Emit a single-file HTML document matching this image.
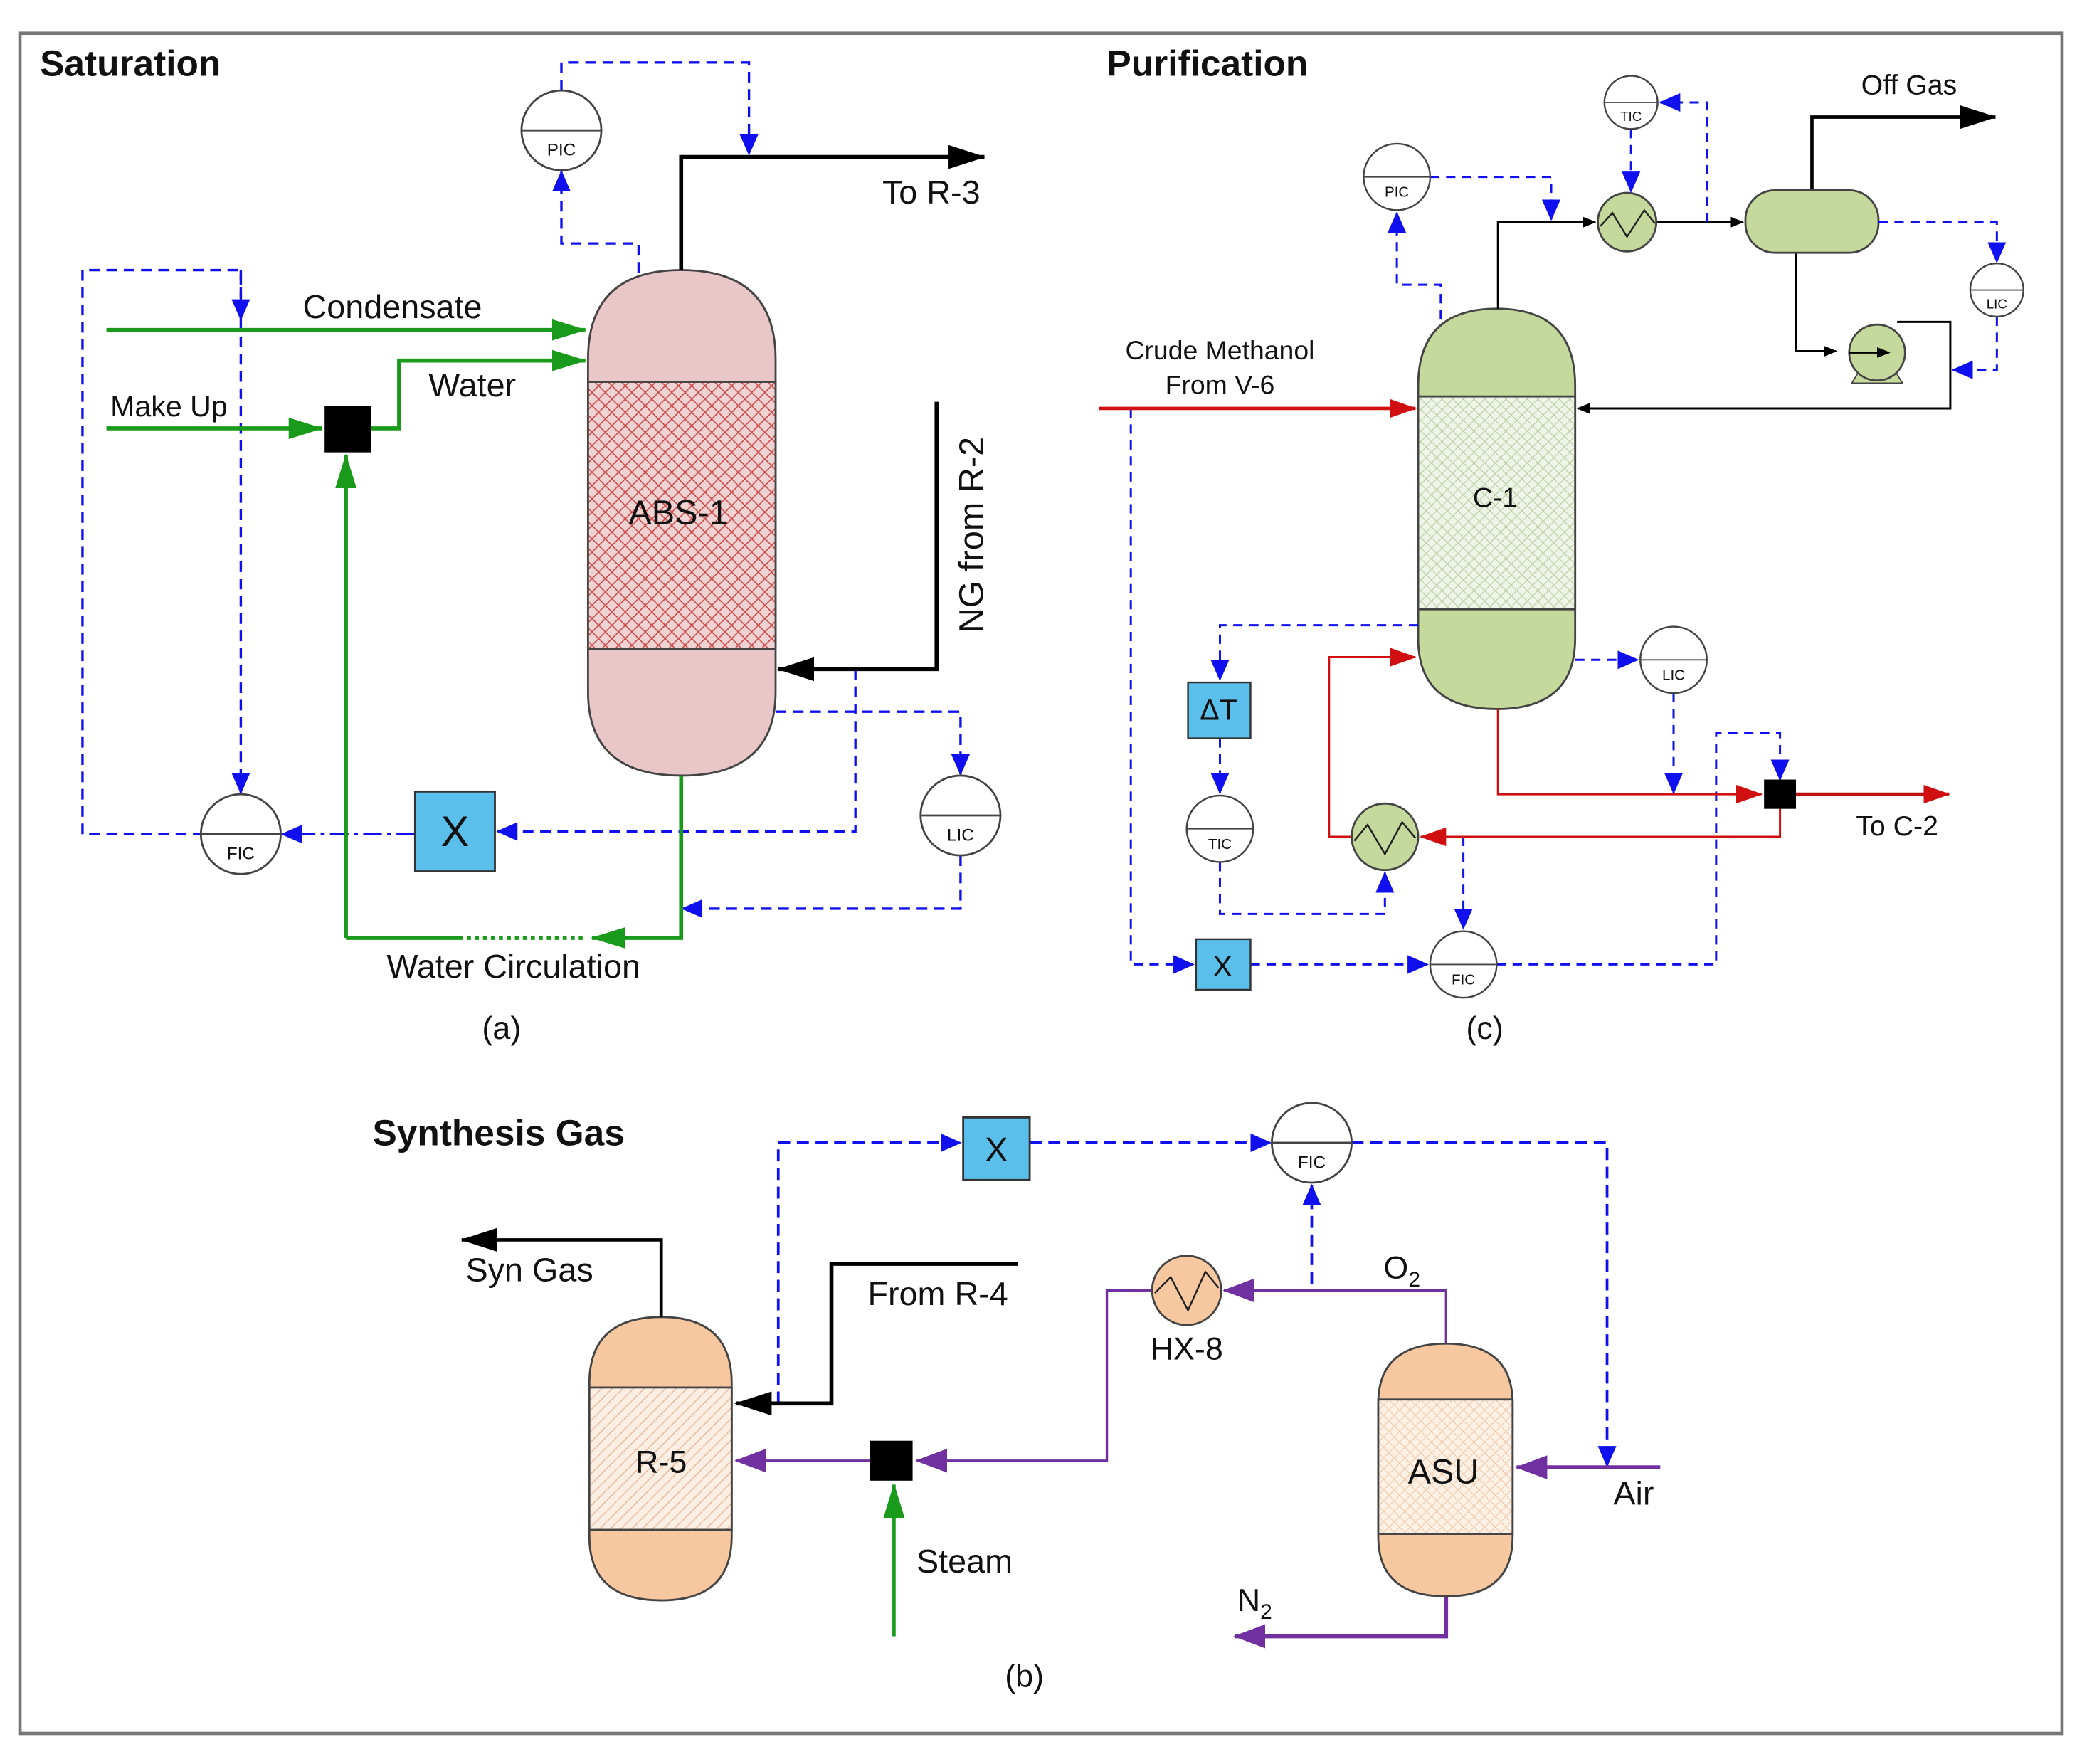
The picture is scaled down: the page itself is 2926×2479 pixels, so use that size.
<!DOCTYPE html>
<html><head><meta charset="utf-8"><style>
html,body{margin:0;padding:0;background:#fff}
svg{display:block}
text{font-family:"Liberation Sans",sans-serif;fill:#111}
</style></head><body>
<svg width="2926" height="2479" viewBox="0 0 1565 1326" preserveAspectRatio="none" xmlns="http://www.w3.org/2000/svg">
<defs>
<pattern id="hr" width="10" height="10" patternUnits="userSpaceOnUse"><rect width="10" height="10" fill="#efd3d3"/><path d="M0 0L10 10M10 0L0 10" stroke="#c44" stroke-width="0.8"/></pattern>
<pattern id="hg" width="8" height="8" patternUnits="userSpaceOnUse"><rect width="8" height="8" fill="#eef5e6"/><path d="M0 0L8 8M8 0L0 8" stroke="#b8cba0" stroke-width="0.6"/></pattern>
<pattern id="ho" width="8" height="8" patternUnits="userSpaceOnUse"><rect width="8" height="8" fill="#fbeee2"/><path d="M0 8L8 0" stroke="#e8b898" stroke-width="0.8"/></pattern>
<pattern id="ho2" width="8" height="8" patternUnits="userSpaceOnUse"><rect width="8" height="8" fill="#fdf0e4"/><path d="M0 0L8 8M8 0L0 8" stroke="#f0c8a8" stroke-width="0.6"/></pattern>
<marker id="ak" markerWidth="10" markerHeight="8" refX="9" refY="4" orient="auto" markerUnits="userSpaceOnUse"><path d="M0 0L10 4L0 8z" fill="#000"/></marker>
<marker id="akb" markerWidth="28" markerHeight="18" refX="27" refY="9" orient="auto" markerUnits="userSpaceOnUse"><path d="M0 0L28 9L0 18z" fill="#000"/></marker>
<marker id="ag" markerWidth="26" markerHeight="16" refX="25" refY="8" orient="auto" markerUnits="userSpaceOnUse"><path d="M0 0L26 8L0 16z" fill="#1a9a1a"/></marker>
<marker id="ab" markerWidth="16" markerHeight="14" refX="15" refY="7" orient="auto" markerUnits="userSpaceOnUse"><path d="M0 0L16 7L0 14z" fill="#1010ee"/></marker>
<marker id="ar" markerWidth="20" markerHeight="14" refX="19" refY="7" orient="auto" markerUnits="userSpaceOnUse"><path d="M0 0L20 7L0 14z" fill="#d01010"/></marker>
<marker id="ap" markerWidth="24" markerHeight="18" refX="23" refY="9" orient="auto" markerUnits="userSpaceOnUse"><path d="M0 0L24 9L0 18z" fill="#7030a0"/></marker>
</defs>
<rect x="15" y="25" width="1535" height="1278" fill="none" stroke="#777" stroke-width="2.5"/>

<!-- ===== Saturation ===== -->
<text x="30" y="57" font-size="27.5" font-weight="bold">Saturation</text>
<path d="M442 270 Q442 203 512 203 Q583 203 583 270 L583 520 Q583 583 512 583 Q442 583 442 520Z" fill="#e9c6c7" stroke="#444" stroke-width="1.5"/>
<rect x="442" y="287" width="141" height="201" fill="url(#hr)" stroke="#444" stroke-width="1.5"/>
<text x="510" y="394" font-size="26" text-anchor="middle">ABS-1</text>
<path d="M512 203V118H740" fill="none" stroke="#000" stroke-width="3" marker-end="url(#akb)"/>
<text x="700" y="153" font-size="25" text-anchor="middle">To R-3</text>
<g fill="none" stroke="#1010ee" stroke-width="1.8" stroke-dasharray="8 5">
<path d="M480 205V183H422V129" marker-end="url(#ab)"/>
<path d="M422 68V47H563V116" marker-end="url(#ab)"/>
<path d="M181 240V203H62V627H151"/>
<path d="M181 203V240" marker-end="url(#ab)"/>
<path d="M181 240V596" marker-end="url(#ab)"/>
<path d="M643 503V625H374" marker-end="url(#ab)"/>
<path d="M312 627H212" stroke-dasharray="14 4 3 4" marker-end="url(#ab)"/>
<path d="M583 535H722V582" marker-end="url(#ab)"/>
<path d="M722 643V683H513" marker-end="url(#ab)"/>
</g>
<circle cx="422" cy="98" r="30" fill="#fff" stroke="#444" stroke-width="1.5"/><line x1="392" y1="98" x2="452" y2="98" stroke="#444" stroke-width="1.5"/><text x="422" y="117" font-size="13" text-anchor="middle">PIC</text>
<g fill="none" stroke="#1a9a1a" stroke-width="3">
<path d="M80 248H440" marker-end="url(#ag)"/>
<path d="M80 322H242" marker-end="url(#ag)"/>
<path d="M279 322H300V271H440" marker-end="url(#ag)"/>
<path d="M260 705V342" marker-end="url(#ag)"/>
<path d="M512 583V705H445" marker-end="url(#ag)"/>
<path d="M260 705H345"/>
</g>
<path d="M345 705H440" stroke="#1a9a1a" stroke-width="3" stroke-dasharray="3 3"/>
<text x="295" y="239" font-size="25" text-anchor="middle">Condensate</text>
<text x="355" y="298" font-size="25" text-anchor="middle">Water</text>
<text x="127" y="313" font-size="22" text-anchor="middle">Make Up</text>
<rect x="244" y="305" width="35" height="35" fill="#000"/>
<path d="M704 302V503H585" fill="none" stroke="#000" stroke-width="3" marker-end="url(#akb)"/>
<text x="0" y="0" font-size="26" text-anchor="middle" transform="translate(739,402) rotate(-90)">NG from R-2</text>
<rect x="312" y="595" width="60" height="60" fill="#5bbfec" stroke="#333" stroke-width="1.5"/><text x="342" y="636" font-size="32" text-anchor="middle">X</text>
<circle cx="181" cy="627" r="30" fill="#fff" stroke="#444" stroke-width="1.5"/><line x1="151" y1="627" x2="211" y2="627" stroke="#444" stroke-width="1.5"/><text x="181" y="646" font-size="13" text-anchor="middle">FIC</text>
<circle cx="722" cy="613" r="30" fill="#fff" stroke="#444" stroke-width="1.5"/><line x1="692" y1="613" x2="752" y2="613" stroke="#444" stroke-width="1.5"/><text x="722" y="632" font-size="13" text-anchor="middle">LIC</text>
<text x="386" y="735" font-size="25" text-anchor="middle">Water Circulation</text>
<text x="377" y="781" font-size="24" text-anchor="middle">(a)</text>

<!-- ===== Purification ===== -->
<text x="832" y="57" font-size="27.5" font-weight="bold">Purification</text>
<path d="M1066 290 Q1066 232 1125 232 Q1184 232 1184 290 L1184 480 Q1184 533 1125 533 Q1066 533 1066 480Z" fill="#c6d99c" stroke="#444" stroke-width="1.5"/>
<rect x="1066" y="298" width="118" height="160" fill="url(#hg)" stroke="#444" stroke-width="1.5"/>
<text x="1124" y="381" font-size="21" text-anchor="middle">C-1</text>
<g fill="none" stroke="#000" stroke-width="1.6">
<path d="M1126 232V167H1199" marker-end="url(#ak)"/>
<path d="M1245 167H1310" marker-end="url(#ak)"/>
<path d="M1350 190V264H1380" marker-end="url(#ak)"/>
<path d="M1426 242H1466V307H1186" marker-end="url(#ak)"/>
</g>
<path d="M1362 143V88H1500" fill="none" stroke="#000" stroke-width="2.5" marker-end="url(#akb)"/>
<text x="1435" y="71" font-size="21" text-anchor="middle">Off Gas</text>
<rect x="1312" y="143" width="100" height="47" rx="22" fill="#c6d99c" stroke="#444" stroke-width="1.5"/>
<circle cx="1223" cy="167" r="22" fill="#c6d99c" stroke="#444" stroke-width="1.5"/><path d="M1203 170L1212 160L1223 178L1236 158L1244 168" fill="none" stroke="#222" stroke-width="1.3"/>
<path d="M1392 288L1398 278H1424L1430 288Z" fill="#c6d99c" stroke="#444"/>
<circle cx="1411" cy="265" r="21" fill="#c6d99c" stroke="#444" stroke-width="1.5"/>
<g fill="none" stroke="#1010ee" stroke-width="1.6" stroke-dasharray="7 5">
<path d="M1283 167V77H1248" marker-end="url(#ab)"/>
<path d="M1226 97V144" marker-end="url(#ab)"/>
<path d="M1083 240V214H1050V160" marker-end="url(#ab)"/>
<path d="M1075 133H1166V165" marker-end="url(#ab)"/>
<path d="M1412 167H1501V197" marker-end="url(#ab)"/>
<path d="M1501 238V278H1468" marker-end="url(#ab)"/>
<path d="M850 307V725H897" marker-end="url(#ab)"/>
<path d="M940 725H1073" marker-end="url(#ab)"/>
<path d="M1125 725H1290V551H1338V586" marker-end="url(#ab)"/>
<path d="M1066 470H917V511" marker-end="url(#ab)"/>
<path d="M917 555V596" marker-end="url(#ab)"/>
<path d="M917 648V687H1041V656" marker-end="url(#ab)"/>
<path d="M1184 496H1231" marker-end="url(#ab)"/>
<path d="M1258 521V596" marker-end="url(#ab)"/>
<path d="M1100 629V698" marker-end="url(#ab)"/>
</g>
<circle cx="1226" cy="77" r="20" fill="#fff" stroke="#444" stroke-width="1.3"/><line x1="1206" y1="77" x2="1246" y2="77" stroke="#444"/><text x="1226" y="91" font-size="10" text-anchor="middle">TIC</text>
<circle cx="1050" cy="133" r="25" fill="#fff" stroke="#444" stroke-width="1.3"/><line x1="1025" y1="133" x2="1075" y2="133" stroke="#444"/><text x="1050" y="148" font-size="11" text-anchor="middle">PIC</text>
<circle cx="1501" cy="218" r="20" fill="#fff" stroke="#444" stroke-width="1.3"/><line x1="1481" y1="218" x2="1521" y2="218" stroke="#444"/><text x="1501" y="232" font-size="10" text-anchor="middle">LIC</text>
<path d="M1390 265H1420" stroke="#000" stroke-width="1.5" marker-end="url(#ak)"/>
<path d="M826 307H1064" stroke="#d01010" stroke-width="2.5" marker-end="url(#ar)"/>
<text x="917" y="270" font-size="20" text-anchor="middle">Crude Methanol</text>
<text x="917" y="296" font-size="20" text-anchor="middle">From V-6</text>
<rect x="899" y="706" width="41" height="38" fill="#5bbfec" stroke="#333" stroke-width="1.3"/><text x="919" y="734" font-size="22" text-anchor="middle">X</text>
<circle cx="1100" cy="725" r="25" fill="#fff" stroke="#444" stroke-width="1.3"/><line x1="1075" y1="725" x2="1125" y2="725" stroke="#444"/><text x="1100" y="740" font-size="11" text-anchor="middle">FIC</text>
<rect x="893" y="513" width="47" height="42" fill="#5bbfec" stroke="#333" stroke-width="1.3"/><text x="916" y="541" font-size="22" text-anchor="middle">ΔT</text>
<circle cx="917" cy="623" r="25" fill="#fff" stroke="#444" stroke-width="1.3"/><line x1="892" y1="623" x2="942" y2="623" stroke="#444"/><text x="917" y="638" font-size="11" text-anchor="middle">TIC</text>
<circle cx="1258" cy="496" r="25" fill="#fff" stroke="#444" stroke-width="1.3"/><line x1="1233" y1="496" x2="1283" y2="496" stroke="#444"/><text x="1258" y="511" font-size="11" text-anchor="middle">LIC</text>
<g fill="none" stroke="#d01010" stroke-width="1.6">
<path d="M1338 608V629H1068" marker-end="url(#ar)"/>
<path d="M1016 629H999V494H1064" marker-end="url(#ar)"/>
<path d="M1126 533V597H1324" marker-end="url(#ar)"/>
</g>
<path d="M1350 597H1465" stroke="#c01010" stroke-width="2.5" marker-end="url(#ar)"/>
<circle cx="1041" cy="629" r="25" fill="#c6d99c" stroke="#444" stroke-width="1.5"/><path d="M1018 632L1028 620L1041 642L1054 618L1064 630" fill="none" stroke="#222" stroke-width="1.3"/>
<rect x="1326" y="586" width="24" height="22" fill="#000"/>
<text x="1426" y="628" font-size="21" text-anchor="middle">To C-2</text>
<text x="1116" y="781" font-size="24" text-anchor="middle">(c)</text>

<!-- ===== Synthesis Gas ===== -->
<text x="280" y="861" font-size="27.5" font-weight="bold">Synthesis Gas</text>
<g fill="none" stroke="#1010ee" stroke-width="2" stroke-dasharray="9 5">
<path d="M585 1055V859H722" marker-end="url(#ab)"/>
<path d="M774 859H955" marker-end="url(#ab)"/>
<path d="M1016 859H1208V1102" marker-end="url(#ab)"/>
<path d="M986 965V891" marker-end="url(#ab)"/>
</g>
<rect x="724" y="840" width="50" height="47" fill="#5bbfec" stroke="#333" stroke-width="1.5"/><text x="749" y="873" font-size="26" text-anchor="middle">X</text>
<circle cx="986" cy="859" r="30" fill="#fff" stroke="#444" stroke-width="1.5"/><line x1="956" y1="859" x2="1016" y2="859" stroke="#444" stroke-width="1.5"/><text x="986" y="878" font-size="13" text-anchor="middle">FIC</text>
<path d="M443 1040 Q443 990 497 990 Q550 990 550 1040 L550 1155 Q550 1203 497 1203 Q443 1203 443 1155Z" fill="#f7c8a0" stroke="#444" stroke-width="1.5"/>
<rect x="443" y="1043" width="107" height="107" fill="url(#ho)" stroke="#444" stroke-width="1.5"/>
<text x="497" y="1107" font-size="24" text-anchor="middle">R-5</text>
<path d="M497 990V932H347" fill="none" stroke="#000" stroke-width="2.5" marker-end="url(#akb)"/>
<text x="398" y="963" font-size="25" text-anchor="middle">Syn Gas</text>
<path d="M765 950H625V1055H553" fill="none" stroke="#000" stroke-width="3" marker-end="url(#akb)"/>
<text x="705" y="981" font-size="25" text-anchor="middle">From R-4</text>
<g fill="none" stroke="#7030a0" stroke-width="1.8">
<path d="M654 1098H553" marker-end="url(#ap)"/>
<path d="M866 970H832V1098H689" marker-end="url(#ap)"/>
<path d="M1087 1010V970H920" marker-end="url(#ap)"/>
</g>
<path d="M1248 1103H1140" stroke="#7030a0" stroke-width="3" marker-end="url(#ap)"/>
<path d="M1087 1200V1230H928" fill="none" stroke="#7030a0" stroke-width="3" marker-end="url(#ap)"/>
<circle cx="892" cy="970" r="26" fill="#f7c8a0" stroke="#444" stroke-width="1.5"/><path d="M868 972L880 960L893 985L906 956L916 968" fill="none" stroke="#222" stroke-width="1.3"/>
<rect x="654" y="1083" width="32" height="30" fill="#000"/>
<path d="M672 1230V1116" stroke="#1a9a1a" stroke-width="2.5" marker-end="url(#ag)"/>
<text x="892" y="1022" font-size="24" text-anchor="middle">HX-8</text>
<text x="1040" y="961" font-size="24">O<tspan font-size="16" dy="6">2</tspan></text>
<text x="725" y="1182" font-size="25" text-anchor="middle">Steam</text>
<path d="M1036 1055 Q1036 1010 1087 1010 Q1137 1010 1137 1055 L1137 1155 Q1137 1200 1087 1200 Q1036 1200 1036 1155Z" fill="#f7c8a0" stroke="#444" stroke-width="1.5"/>
<rect x="1036" y="1052" width="101" height="101" fill="url(#ho2)" stroke="#444" stroke-width="1.5"/>
<text x="1085" y="1115" font-size="26" text-anchor="middle">ASU</text>
<text x="1228" y="1131" font-size="25" text-anchor="middle">Air</text>
<text x="930" y="1211" font-size="24">N<tspan font-size="16" dy="6">2</tspan></text>
<text x="770" y="1268" font-size="24" text-anchor="middle">(b)</text>
</svg>
</body></html>
